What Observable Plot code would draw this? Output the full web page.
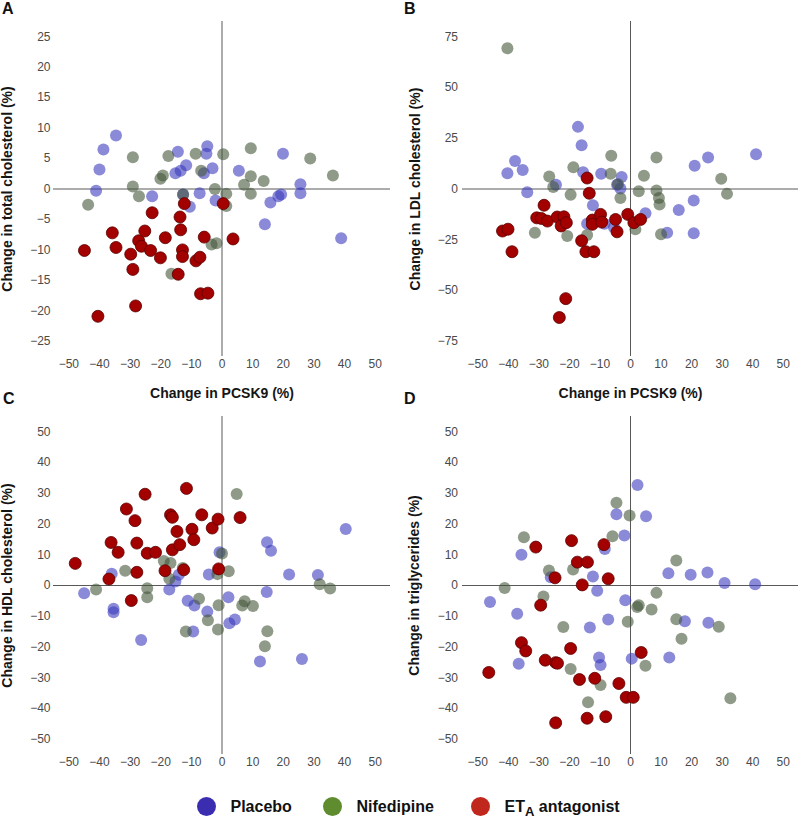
<!DOCTYPE html>
<html><head><meta charset="utf-8">
<script src="https://cdn.jsdelivr.net/npm/d3@7"></script>
<script src="https://cdn.jsdelivr.net/npm/@observablehq/plot@0.6"></script>
<style>
body{margin:0;background:#fff;font-family:"Liberation Sans",Arial,Helvetica,sans-serif;}
#root{position:relative;width:800px;height:823px;overflow:hidden;background:#fff;}
.panel{position:absolute;}
.letter{position:absolute;font-size:16px;font-weight:bold;line-height:16px;color:#111;}
.leg{position:absolute;top:796px;height:21px;display:flex;align-items:center;font-size:16px;font-weight:bold;color:#111;white-space:nowrap;}
.leg .sw{width:19px;height:19px;border-radius:50%;margin-right:15px;}
.leg sub{font-size:13px;vertical-align:-4px;line-height:0;}
</style></head><body><div id="root"></div>
<script>
// ---------- labels ----------
const groups = ["Placebo", "Nifedipine", "ETA antagonist"];
const xTitle = "Change in PCSK9 (%)";
const yTitles = ["Change in total cholesterol (%)", "Change in LDL cholesterol (%)", "Change in HDL cholesterol (%)", "Change in triglycerides (%)"];
const panelLetters = ["A", "B", "C", "D"];
const xTicks = [-50, -40, -30, -20, -10, 0, 10, 20, 30, 40, 50];
const yTicksTotal = [-25, -20, -15, -10, -5, 0, 5, 10, 15, 20, 25];
const yTicksLDL = [-75, -50, -25, 0, 25, 50, 75];
const yTicksHDL = [-50, -40, -30, -20, -10, 0, 10, 20, 30, 40, 50];
const yTicksTG = [-50, -40, -30, -20, -10, 0, 10, 20, 30, 40, 50];

// ---------- A: total cholesterol [PCSK9 %, change %] ----------
const totalPlacebo = [[-34.6,8.8],[-38.7,6.5],[-40.0,3.2],[-41.1,-0.3],[-22.8,-1.2],[-14.4,6.1],[-15.2,2.6],[-13.5,3.0],[-11.7,3.9],[-4.8,7.0],[-5.1,5.8],[-5.9,2.6],[-3.1,3.4],[-7.3,-0.7],[-10.5,-2.9],[-12.7,-0.9],[-2.1,-1.9],[5.5,3.0],[19.9,5.8],[25.6,0.8],[25.6,-0.7],[15.8,-2.2],[18.4,-1.2],[19.3,-0.9],[14.0,-5.8],[38.9,-8.1]];
const totalNifedipine = [[-43.7,-2.6],[-29.1,5.2],[-29.1,0.4],[-27.1,-1.2],[-17.5,5.4],[-19.3,2.2],[-20.1,1.7],[-8.6,5.8],[-6.8,3.0],[-12.7,-0.9],[-2.3,0],[0.4,5.7],[1.4,-0.8],[1.4,-2.8],[9.4,6.7],[9.4,2.1],[9.4,-0.8],[7.2,0.7],[13.6,1.3],[28.8,5.0],[36.2,2.2],[-3.4,-9.1],[-1.8,-8.9],[-16.5,-13.9]];
const totalETA = [[-44.9,-10.1],[-40.5,-20.9],[-35.8,-7.2],[-34.6,-9.6],[-29.8,-10.7],[-29.1,-13.2],[-28.2,-19.2],[-27.2,-8.5],[-26.3,-9.4],[-25.2,-6.9],[-23.3,-10.1],[-22.8,-3.9],[-20.1,-11.3],[-18.5,-8.0],[-13.7,-4.6],[-13.5,-6.7],[-12.9,-10.0],[-12.9,-11.1],[-14.3,-14.0],[-12.3,-2.4],[-8.5,-11.8],[-7.2,-11.2],[-5.8,-7.9],[-7.0,-17.2],[-4.6,-17.1],[0.4,-2.4],[3.6,-8.2]];

// ---------- B: LDL cholesterol ----------
const ldlPlacebo = [[-17.2,30.6],[-16.0,21.6],[-37.8,13.8],[-40.3,7.8],[-35.3,9.4],[-33.8,-1.6],[-24.4,2.1],[-15.5,8.3],[-9.6,7.5],[-2.9,5.9],[-4.4,2.1],[-3.3,0.2],[-12.3,-8.0],[-14.2,-17.1],[-8.5,-17.1],[-5.4,-19.0],[4.9,-12.0],[15.8,-10.4],[12.0,-21.5],[20.7,-5.7],[20.7,-21.8],[21.0,11.4],[25.4,15.5],[41.1,17.1]];
const ldlNifedipine = [[-40.3,69.3],[-26.6,6.2],[-25.3,1.0],[-19.6,-2.8],[-18.7,10.7],[-31.3,-21.5],[-20.7,-23.1],[-14.2,-22.6],[-6.5,7.5],[-6.3,16.4],[-4.1,2.4],[-3.3,-4.4],[2.7,-1.1],[4.4,6.5],[1.6,-19.8],[8.5,15.5],[8.5,-0.7],[9.3,-4.4],[9.5,-7.6],[10.0,-22.3],[29.7,5.0],[31.6,-2.4]];
const ldlETA = [[-41.9,-20.7],[-40.1,-19.8],[-38.8,-30.9],[-28.3,-8.0],[-30.7,-14.2],[-29.2,-14.5],[-27.2,-15.8],[-24.0,-13.8],[-21.8,-13.7],[-22.7,-18.2],[-21.0,-16.6],[-21.2,-54.0],[-23.3,-63.3],[-14.2,5.4],[-13.5,-2.1],[-16.0,-25.5],[-14.6,-30.9],[-12.0,-30.9],[-12.5,-15.3],[-12.5,-17.4],[-9.8,-12.5],[-9.4,-16.3],[-4.9,-15.0],[-4.4,-21.1],[-0.9,-12.5],[1.1,-16.6],[3.3,-15.0]];

// ---------- C: HDL cholesterol ----------
const hdlPlacebo = [[-45.0,-2.5],[-36.0,3.8],[-35.4,-7.6],[-35.4,-8.7],[-26.4,-17.7],[-17.2,-1.3],[-15.2,1.3],[-14.1,3.5],[-11.2,-5.0],[-9.0,-6.5],[-9.4,-15.0],[-4.8,-8.5],[-4.3,3.6],[-0.8,10.8],[2.1,-3.8],[2.4,-12.3],[4.2,-11.1],[14.7,14.1],[16.0,11.3],[14.6,-2.1],[21.9,3.6],[12.4,-24.7],[26.1,-23.9],[31.3,3.4],[40.4,18.4]];
const hdlNifedipine = [[-41.1,-1.3],[-31.6,4.8],[-24.4,-0.9],[-24.4,-3.8],[-19.0,8.0],[-16.8,7.3],[-17.2,2.2],[-12.8,5.7],[-11.8,-15.0],[-7.5,-4.3],[-4.6,-11.3],[-1.5,3.7],[-1.1,-6.4],[-1.3,-14.3],[0,10.4],[2.2,4.6],[4.8,29.8],[6.6,-6.5],[7.4,-5.1],[10.1,-6.7],[14.8,-14.9],[14.0,-19.8],[31.9,0.4],[35.3,-1.0]];
const hdlETA = [[-47.9,7.2],[-36.9,2.1],[-36.2,14.0],[-33.9,10.8],[-31.2,24.9],[-28.4,21.1],[-27.8,13.8],[-27.8,4.3],[-29.6,-4.9],[-25.1,29.7],[-24.4,10.5],[-21.7,10.8],[-18.6,4.8],[-16.8,23.0],[-16.2,22.2],[-16.2,11.6],[-14.7,17.6],[-13.8,13.3],[-12.5,5.1],[-11.6,31.6],[-9.8,18.3],[-9.2,14.9],[-6.6,23.0],[-3.2,18.7],[-1.3,21.6],[-1.1,5.4],[5.9,22.1]];

// ---------- D: triglycerides ----------
const tgPlacebo = [[-46.0,-5.4],[-37.1,-9.2],[-35.7,10.0],[-36.6,-25.5],[-26.1,2.7],[-12.3,2.9],[-10.9,-1.7],[-13.3,-13.7],[-8.4,11.9],[-7.3,-11.1],[-10.3,-23.4],[-9.8,-25.9],[-4.6,23.2],[-2.0,16.3],[-1.7,-4.8],[0.4,-23.8],[2.3,32.7],[5.1,22.5],[12.4,4.0],[19.7,3.5],[25.2,4.2],[30.8,0.8],[40.8,0.4],[17.8,-11.6],[25.5,-12.1],[12.7,-23.4]];
const tgNifedipine = [[-41.2,-0.8],[-34.9,15.7],[-28.5,-3.6],[-26.7,4.9],[-22.0,-13.5],[-18.8,5.2],[-19.6,-27.2],[-13.9,-38.0],[-9.8,-32.4],[-5.9,16.0],[-4.6,26.9],[-0.3,22.8],[-0.9,-11.8],[2.2,-7.0],[2.7,-6.4],[6.9,-7.8],[8.5,-2.4],[4.9,-26.1],[15.0,8.1],[15.0,-11.0],[16.7,-17.3],[28.9,-13.4],[32.7,-36.7]];
const tgETA = [[-46.4,-28.3],[-35.7,-18.6],[-34.3,-21.3],[-31.0,12.5],[-29.4,-6.4],[-27.9,-24.3],[-24.7,2.5],[-24.5,-25.1],[-23.9,-25.3],[-24.5,-44.7],[-19.3,14.6],[-19.6,-20.5],[-17.4,7.6],[-15.8,0.2],[-16.7,-30.6],[-14.1,7.6],[-14.2,-43.2],[-11.7,-30.2],[-8.7,13.3],[-7.3,2.2],[-8.1,-42.7],[-3.8,-31.9],[-1.4,-36.4],[0.9,-36.4],[3.5,-21.8]];

// ---------- styling ----------
const FONT = '"Liberation Sans", Arial, Helvetica, sans-serif';
const dotStyles = [
  {fill: "#3c3cbe", fillOpacity: 0.6},
  {fill: "#45573a", fillOpacity: 0.6},
  {fill: "#a30000", stroke: "#5a0000", strokeWidth: 0.8}
];
const legendColors = ["#3a2db0", "#5f8c2f", "#c0281e"];

const root = document.getElementById("root");

function panel(cfg) {
  const marks = [
    Plot.ruleY([0], {stroke: "#595959", strokeWidth: 1}),
    Plot.ruleX([0], {stroke: "#595959", strokeWidth: 1}),
    Plot.axisX({ticks: xTicks, tickSize: 0, tickPadding: 3, tickFormat: d3.format("d"), label: null, fill: "#4a4a4a"}),
    Plot.axisY({ticks: cfg.yTicks, tickSize: 0, tickPadding: cfg.yPad, tickFormat: d3.format("d"), label: null, fill: "#4a4a4a"}),
  ];
  cfg.series.forEach((s, i) => {
    marks.push(Plot.dot(s, {x: d => d[0], y: d => d[1], r: 6, ...dotStyles[i]}));
  });
  marks.push(Plot.text([cfg.yTitle], {frameAnchor: "left", rotate: -90, textAnchor: "middle", lineAnchor: "middle", dx: cfg.yTitleDx, fontSize: 14, fontWeight: "bold", fill: "#151515"}));
  if (cfg.xTitle) marks.push(Plot.text([cfg.xTitle], {frameAnchor: "bottom", textAnchor: "middle", lineAnchor: "middle", dy: 37, fontSize: 14, fontWeight: "bold", fill: "#151515"}));
  const svg = Plot.plot({
    width: cfg.width, height: cfg.height,
    marginLeft: cfg.m[0], marginRight: cfg.m[1], marginTop: cfg.m[2], marginBottom: cfg.m[3],
    x: {domain: [-55, 55]},
    y: {domain: cfg.yDomain},
    style: {fontSize: "12px", fontFamily: FONT, background: "transparent", overflow: "visible"},
    marks
  });
  svg.classList.add("panel");
  svg.style.left = cfg.left + "px";
  svg.style.top = cfg.top + "px";
  root.appendChild(svg);
  const L = document.createElement("div");
  L.className = "letter";
  L.textContent = cfg.letter;
  L.style.left = cfg.letterPos[0] + "px";
  L.style.top = cfg.letterPos[1] + "px";
  root.appendChild(L);
}

panel({left: 0, top: 0, width: 400, height: 400, m: [53, 10, 21, 44], yDomain: [-27.5, 27.5], yTicks: yTicksTotal, yPad: 3,
  series: [totalPlacebo, totalNifedipine, totalETA], yTitle: yTitles[0], yTitleDx: -46, xTitle, letter: panelLetters[0], letterPos: [2, 1]});
panel({left: 400, top: 0, width: 400, height: 400, m: [62, 2, 21, 44], yDomain: [-82.5, 82.5], yTicks: yTicksLDL, yPad: 4.5,
  series: [ldlPlacebo, ldlNifedipine, ldlETA], yTitle: yTitles[1], yTitleDx: -47, xTitle, letter: panelLetters[1], letterPos: [404, 1]});
panel({left: 0, top: 400, width: 400, height: 380, m: [53, 10, 16, 26], yDomain: [-55, 55], yTicks: yTicksHDL, yPad: 3,
  series: [hdlPlacebo, hdlNifedipine, hdlETA], yTitle: yTitles[2], yTitleDx: -46, xTitle: null, letter: panelLetters[2], letterPos: [3, 391]});
panel({left: 400, top: 400, width: 400, height: 380, m: [62, 2, 16, 26], yDomain: [-55, 55], yTicks: yTicksTG, yPad: 4.5,
  series: [tgPlacebo, tgNifedipine, tgETA], yTitle: yTitles[3], yTitleDx: -48, xTitle: null, letter: panelLetters[3], letterPos: [404, 391]});

// legend
const legLeft = [196.5, 322.5, 470.5];
groups.forEach((g, i) => {
  const item = document.createElement("div");
  item.className = "leg";
  item.style.left = legLeft[i] + "px";
  const sw = document.createElement("span");
  sw.className = "sw";
  sw.style.background = legendColors[i];
  item.appendChild(sw);
  const t = document.createElement("span");
  if (g.startsWith("ETA")) {
    t.innerHTML = "ET<sub>A</sub>" + g.slice(3);
  } else {
    t.textContent = g;
  }
  item.appendChild(t);
  root.appendChild(item);
});
</script></body></html>
